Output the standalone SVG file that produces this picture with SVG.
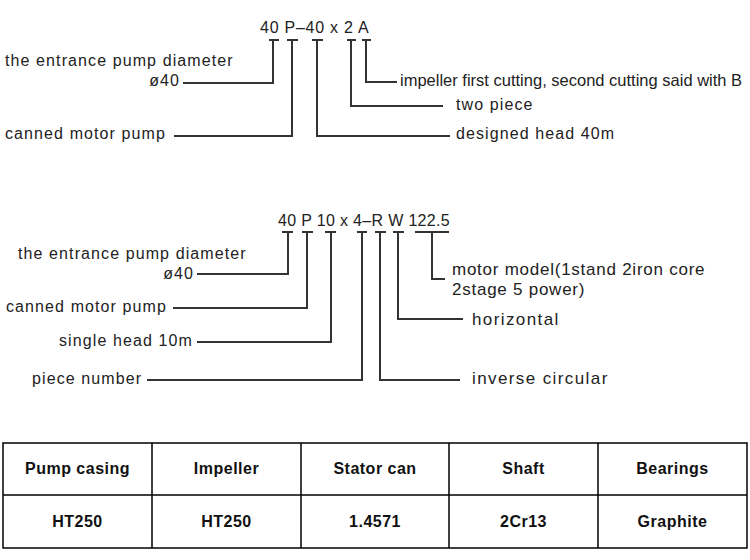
<svg xmlns="http://www.w3.org/2000/svg" width="750" height="560" viewBox="0 0 750 560">
<style>
text{font-family:"Liberation Sans",Arial,sans-serif;fill:#222}
.hd{font-size:16px}
.lb{font-size:16px;letter-spacing:1.1px}
.lb2{font-size:17px;letter-spacing:1.4px}
.mm{font-size:17px;letter-spacing:0.75px}
.im{font-size:16.5px}
.ln{stroke:#333;stroke-width:2;fill:none}
.cell{stroke:#000;stroke-width:1.5;fill:none}
.th{font-size:16px;font-weight:bold;letter-spacing:0.5px;text-anchor:middle;fill:#111}
</style>
<rect width="750" height="560" fill="#fff"/>

<g id="model1">
<text class="hd" x="260" y="33" style="letter-spacing:0.75px">40 P–40 x 2 A</text>
</g>
<g id="m1-diameter"><text class="lb" x="5" y="66">the entrance pump diameter</text><text class="lb" x="180" y="86" text-anchor="end">ø40</text></g>
<g id="m1-canned"><text class="lb" x="5" y="139">canned motor pump</text></g>
<g id="m1-impeller"><text class="im" x="400" y="86">impeller first cutting, second cutting said with B</text></g>
<g id="m1-two"><text class="lb" x="456" y="110">two piece</text></g>
<g id="m1-head"><text class="lb" x="456" y="139">designed head 40m</text></g>

<g id="connectors1">
<path class="ln" d="M269,40H279M287,40H298M312,40H323M347,40H356M362,40H371"/>
<path class="ln" d="M273,40V83H183"/>
<path class="ln" d="M292,40V136H174"/>
<path class="ln" d="M317,40V136H450"/>
<path class="ln" d="M351,40V106H443"/>
<path class="ln" d="M366,40V82H397"/>
</g>

<g id="model2">
<text class="hd" x="278" y="226" style="letter-spacing:0.33px">40 P 10 x 4–R W 122.5</text>
</g>
<g id="m2-diameter"><text class="lb" x="18" y="259">the entrance pump diameter</text><text class="lb" x="194" y="279" text-anchor="end">ø40</text></g>
<g id="m2-canned"><text class="lb" x="6" y="312">canned motor pump</text></g>
<g id="m2-single"><text class="lb" x="59" y="346">single head 10m</text></g>
<g id="m2-piece"><text class="lb" x="32" y="384">piece number</text></g>
<g id="m2-motor"><text class="mm" x="452" y="275">motor model(1stand 2iron core</text><text class="mm" x="452" y="295">2stage 5 power)</text></g>
<g id="m2-horizontal"><text class="lb2" x="472" y="325">horizontal</text></g>
<g id="m2-inverse"><text class="lb2" x="472" y="384">inverse circular</text></g>

<g id="connectors2">
<path class="ln" d="M282,232H293M302,232H313M325,232H336M357,232H367M375,232H386M393,232H404M415,232H449"/>
<path class="ln" d="M288,232V274H197"/>
<path class="ln" d="M307,232V308H173"/>
<path class="ln" d="M331,232V342H197"/>
<path class="ln" d="M362,232V380H147"/>
<path class="ln" d="M380,232V380H460"/>
<path class="ln" d="M398,232V319H463"/>
<path class="ln" d="M432,232V279H445"/>
</g>

<g id="table">
<rect class="cell" x="3" y="443" width="744" height="105"/>
<path class="cell" d="M3,495H747M152,443V548M301,443V548M449,443V548M598,443V548"/>
<text class="th" x="77.5" y="474">Pump casing</text>
<text class="th" x="226.5" y="474">Impeller</text>
<text class="th" x="375" y="474">Stator can</text>
<text class="th" x="523.5" y="474">Shaft</text>
<text class="th" x="672.5" y="474">Bearings</text>
<text class="th" x="77.5" y="527">HT250</text>
<text class="th" x="226.5" y="527">HT250</text>
<text class="th" x="375" y="527">1.4571</text>
<text class="th" x="523.5" y="527">2Cr13</text>
<text class="th" x="672.5" y="527">Graphite</text>
</g>
</svg>
